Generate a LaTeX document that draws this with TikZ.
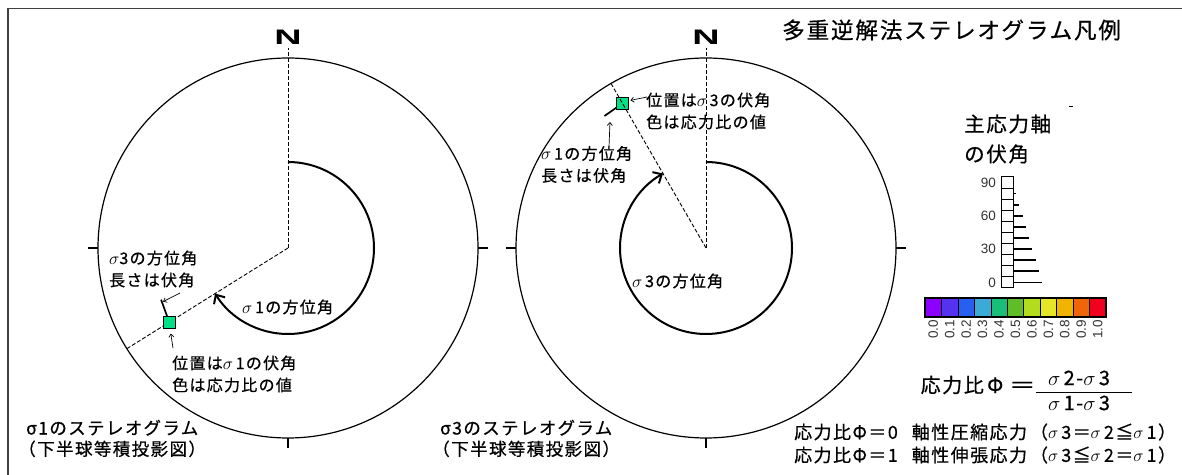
\documentclass[tikz,border=0pt]{standalone}
\usepackage{fontspec}
\setmainfont{Noto Sans CJK JP}[LetterSpace=8,FakeBold=0.6]
\newfontfamily\arialfont{Liberation Sans}
\usetikzlibrary{arrows.meta,positioning}

\definecolor{ratiogreen}{RGB}{0,225,135}
\definecolor{cbar0}{RGB}{140,0,255}
\definecolor{cbar1}{RGB}{85,50,240}
\definecolor{cbar2}{RGB}{40,95,240}
\definecolor{cbar3}{RGB}{60,170,215}
\definecolor{cbar4}{RGB}{25,190,120}
\definecolor{cbar5}{RGB}{95,190,40}
\definecolor{cbar6}{RGB}{180,220,30}
\definecolor{cbar7}{RGB}{230,230,40}
\definecolor{cbar8}{RGB}{240,180,0}
\definecolor{cbar9}{RGB}{240,100,10}
\definecolor{cbar10}{RGB}{240,0,30}

\tikzset{
	outer/.style={line width=1.2pt},
	azline/.style={line width=0.9pt,dash pattern=on 4pt off 2pt},
	innerarc/.style={line width=2pt,-{Straight Barb[length=7pt,width=13pt,line width=2pt]}},
	pointer/.style={line width=0.7pt,-{Straight Barb[length=3pt,width=5pt]}},
	poletick/.style={line width=1.2pt},
	dipbar/.style={line width=1.7pt},
	ratiobox/.style={draw,line width=0.8pt,fill=ratiogreen,minimum size=12pt,inner sep=0pt},
	note/.style={font=\fontsize{16}{22}\selectfont,align=left,inner sep=0pt,anchor=west},
	caption/.style={font=\fontsize{17.5}{21}\selectfont,align=left,inner sep=0pt,anchor=west},
	caseline/.style={font=\fontsize{18}{22}\selectfont,inner sep=0pt,anchor=west},
	northmark/.style={font=\arialfont\bfseries\fontsize{21}{21}\selectfont,inner sep=0pt},
	scalenum/.style={font=\arialfont\fontsize{13.5}{14}\selectfont,text=black!80,inner sep=0pt},
}

\begin{document}
\begin{tikzpicture}[x=1pt,y=1pt]
	\useasboundingbox (0,0) rectangle (1182,474);
	\draw[line width=1.6pt,black!75] (8,-10) -- (8,465.5) -- (1195,465.5);

	\coordinate (c1) at (288,226);
	\coordinate (c2) at (706,226);

	\draw[outer] (c1) circle (190pt);
	\foreach \a in {0,180,270}
		\draw[poletick] (c1) ++(\a:190) -- ++(\a:10);
	\draw[azline] (c1) -- ++(0,200);
	\node[northmark] (n1) at (288,437) {\scalebox{1.8}[1]{N}};
	\draw[innerarc] (c1) ++(90:86) arc[start angle=90,end angle=-148,radius=86pt];
	\draw[azline] (c1) -- ++(212:190);
	\path (c1) ++(212:140) coordinate (p1);
	\draw[dipbar] (p1) -- ++(110:24) coordinate (b1);
	\node[ratiobox] (s1) at (p1) {};

	\node[note] (az3a) at (109,205) {$\sigma$3の方位角\\長さは伏角};
	\coordinate (t1) at (180,181);
	\draw[pointer] (t1) -- ([xshift=2pt,yshift=-2pt]b1);
	\node[note] (az1a) at (242,167) {$\sigma$\,1の方位角};
	\node[note] (pos1) at (172,100) {位置は$\sigma$\,1の伏角\\色は応力比の値};
	\coordinate (t2) at (173,126);
	\draw[pointer] (t2) -- ([xshift=1.5pt,yshift=-5pt]s1.south);
	\node[caption] (cap1) at (26,35.5) {σ1のステレオグラム\\\kern-0.45em（下半球等積投影図）};

	\draw[outer] (c2) circle (190pt);
	\foreach \a in {0,180,270}
		\draw[poletick] (c2) ++(\a:190) -- ++(\a:10);
	\draw[azline] (c2) -- ++(0,200);
	\node[northmark] (n2) at (706,437) {\scalebox{1.8}[1]{N}};
	\draw[innerarc] (c2) ++(90:86) arc[start angle=90,end angle=-240,radius=86pt];
	\path (c2) ++(120:167) coordinate (p2);
	\draw[dipbar] (p2) -- ++(215:22) coordinate (b2);
	\node[ratiobox] (s2) at (p2) {};
	\draw[azline] (c2) -- ++(120:190);

	\node[note] (pos3) at (646,363) {位置は$\sigma$\,3の伏角\\色は応力比の値};
	\coordinate (t3) at (647,377);
	\draw[pointer] (t3) -- ([xshift=1.5pt,yshift=3pt]s2.east);
	\node[note] (az1b) at (541,309.5) {$\sigma$\,1の方位角\\長さは伏角};
	\coordinate (t4) at (609,327);
	\draw[pointer] (t4) -- ([xshift=5.5pt,yshift=-6pt]b2);
	\node[note] (az3b) at (632,193) {$\sigma$\,3の方位角};
	\node[caption] (cap3) at (440,35.5) {σ3のステレオグラム\\\kern-0.45em（下半球等積投影図）};

	\node[font=\fontsize{22.6}{24}\selectfont,anchor=west,inner sep=0pt] (title) at (782,444) {多重逆解法ステレオグラム凡例};
	\draw[line width=1pt] (1069,367) -- (1073,367);

	\node[font=\fontsize{20.5}{30}\selectfont,align=left,anchor=west,inner sep=0pt] (diphead) at (964,335) {主応力軸\\の伏角};
	\foreach \i in {0,...,9}
		\draw[line width=1pt] (1001,{186+11.1*\i}) rectangle ++(12,11.1);
	\foreach \i in {0,...,8}
		\draw[dipbar] (1013,{191.55+11.1*\i}) -- ++({29*(9-\i)/9},0);
	\foreach \d/\i in {0/0,30/3,60/6,90/9}
		\node[scalenum,anchor=east] (dip\d) at (996,{191.55+11.1*\i}) {\d};

	\foreach \v [count=\i from 0] in {0.0,0.1,0.2,0.3,0.4,0.5,0.6,0.7,0.8,0.9,1.0} {
		\draw[line width=0.5pt,fill=cbar\i] ({925+16.45*\i},157) rectangle ++(16.45,19);
		\node[scalenum,rotate=90,anchor=east] (cb\i) at ({925+16.45*(\i+0.5)},154) {\v};
	}
	\draw[line width=1.2pt] (925,157) rectangle (1106,176);

	\node[font=\fontsize{20}{20}\selectfont,anchor=east,inner sep=0pt] (ratio) at (1036,89) {応力比\,Φ\;\scalebox{1.35}[1]{＝}};
	\draw[line width=1pt] ([yshift=-7pt]ratio.east) -- ++(96,0) coordinate (fracend);
	\node[font=\fontsize{20}{20}\selectfont,inner sep=0pt] (num) at (1079,96) {$\sigma$\,2-$\sigma$\,3};
	\node[font=\fontsize{20}{20}\selectfont,inner sep=0pt] (den) at (1079,71) {$\sigma$\,1-$\sigma$\,3};

	\node[caseline] (case0) at (794,42) {応力比Φ＝0\hspace{14pt}軸性圧縮応力\hspace{3pt}（$\sigma$\,3＝$\sigma$\,2≦$\sigma$\,1）};
	\node[caseline] (case1) at (794,19) {応力比Φ＝1\hspace{14pt}軸性伸張応力\hspace{3pt}（$\sigma$\,3≦$\sigma$\,2＝$\sigma$\,1）};
\end{tikzpicture}
\end{document}
